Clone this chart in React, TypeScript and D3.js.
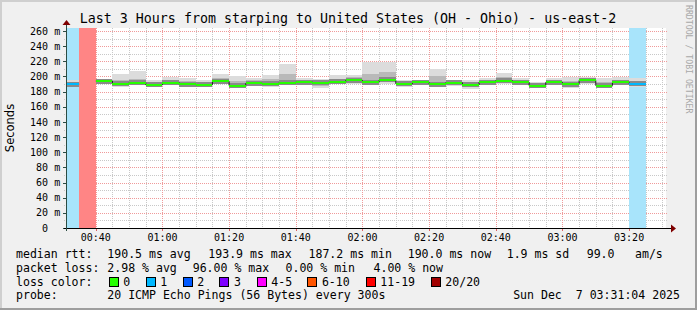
import React, { useEffect } from 'react';
import * as d3 from 'd3';

// ---------- data ----------
const binStart = Date.UTC(2025, 11, 7, 0, 30, 0); // first 5-minute bin
const binMinutes = 5;
const lossCount = [1, 19, 0, 0, 0, 0, 0, 0, 0, 0, 0, 0, 0, 0, 0, 0, 0, 0, 0, 0, 0, 0, 0, 0, 0, 0, 0, 0, 0, 0, 0, 0, 0, 0, 1];
const medianRtt = [189.7, null, 194, 190.5, 192, 189, 192, 189.7, 189, 193.6, 188, 191, 190.5, 192, 192.7, 191.8, 193, 195, 192.3, 195.4, 190.5, 192.3, 190, 191.8, 189, 192.7, 194.4, 192.7, 188, 192.3, 189.7, 195, 188, 192.3, 190.5];
const smokeMax = [196, null, 196.5, 203, 207.5, 195, 199, 198, 195, 203.5, 201, 197.5, 202, 216.5, 198, 197, 201.5, 201.5, 219, 219, 195.8, 195, 210, 196, 195, 198, 204.5, 198, 193, 198, 199.5, 199.5, 198, 199.5, 198];
const smokeHi = [192.5, null, 195.5, 196, 197, 192, 196, 194, 192, 198, 194, 195, 197, 203, 196, 194, 197, 199, 203, 205.5, 193, 194, 201, 194, 192, 196, 199, 196, 191, 196, 194, 197, 193, 196, 193];
const smokeLo = [188, null, 192, 188, 190.5, 187.5, 191, 188, 188.5, 191.5, 186.5, 189, 188, 190.5, 191, 187, 191.5, 192, 190, 192.5, 188, 190.5, 188, 189, 186, 191, 192, 191, 187, 191, 186, 192, 186.5, 190.5, 188];
const smokeMin = [186.5, null, 190.5, 186.5, 189.5, 186.5, 190, 187, 188.4, 189.5, 184.7, 187, 186.5, 188.8, 189.6, 184.7, 190, 190, 188.3, 190.5, 186.5, 189.6, 186, 187, 184, 190, 189.7, 190, 186, 190, 184.3, 189.8, 184.7, 189, 186.5];

const yMajorTicks = [0, 20, 40, 60, 80, 100, 120, 140, 160, 180, 200, 220, 240, 260];
const yMinorTicks = [10, 30, 50, 70, 90, 110, 130, 150, 170, 190, 210, 230, 250];

const lossLabels = ['0', '1', '2', '3', '4-5', '6-10', '11-19', '20/20'];
const lossColors = ['#26ff00', '#00b8ff', '#0059ff', '#7e00ff', '#ff00ff', '#ff5500', '#ff0000', '#a10000'];
const lossBandColors = ['none', '#a8e4fb', '#99bbff', '#cb99ff', '#ff99ff', '#ffbb99', '#ff8585', '#d99999'];
const lossLegendX = [108.7, 145.7, 182.7, 219.3, 256.7, 307.3, 365.7, 430.7];

const titleText = 'Last 3 Hours from starping to United States (OH - Ohio) - us-east-2';
const rttFields = ['190.5 ms avg', '193.9 ms max', '187.2 ms min', '190.0 ms now', '1.9 ms sd', '99.0', 'am/s'];
const rttFieldX = [107.3, 208.3, 308.5, 407.7, 506.7, 586.7, 635];
const lossFields = ['2.98 % avg', '96.00 % max', '0.00 % min', '4.00 % now'];
const lossFieldX = [107.3, 192.7, 285.5, 373.5];
const probeText = '20 ICMP Echo Pings (56 Bytes) every 300s';
const dateText = 'Sun Dec \u00a07 03:31:04 2025';

const T0 = Date.UTC(2025, 11, 7, 0, 31, 4);
const T1 = Date.UTC(2025, 11, 7, 3, 31, 4);

const W = 697, H = 310;
const PL = 66, PR = 666, PT = 28, PB = 228;
const MONO = '"DejaVu Sans Mono", monospace';

function lossClass(n: number) {
  if (n <= 0) return 0;
  if (n === 1) return 1;
  if (n === 2) return 2;
  if (n === 3) return 3;
  if (n <= 5) return 4;
  if (n <= 10) return 5;
  if (n <= 19) return 6;
  return 7;
}

export default function App() {
  useEffect(() => {
    document.body.style.margin = '0';
  }, []);

  const x = d3.scaleUtc().domain([T0, T1]).range([PL, PR]);
  const y = d3.scaleLinear().domain([0, 264]).range([PB, PT]);
  const cy = (v: number) => Math.round(y(v)) + 0.5;
  const cx = (t: Date) => Math.round(x(t)) + 0.5;

  const xMinor = d3.utcMinute.every(5)!.range(new Date(T0), new Date(T1));
  const xMajor = d3.utcMinute.every(20)!.range(new Date(T0), new Date(T1));
  const fmt = d3.utcFormat('%H:%M');

  const bins = lossCount.map((loss, i) => {
    const s = binStart + i * binMinutes * 60000;
    const e = s + binMinutes * 60000;
    const x0 = Math.max(PL, x(s));
    const x1 = Math.min(PR, x(e));
    return { i, loss, cls: lossClass(loss), x0, x1, s, e };
  });

  const medLine = d3
    .line<any>()
    .defined((d) => d.v != null)
    .x((d) => d.x)
    .y((d) => y(d.v));
  const medPts: any[] = [];
  bins.forEach((b) => {
    medPts.push({ x: b.x0, v: medianRtt[b.i] });
    medPts.push({ x: b.x1, v: medianRtt[b.i] });
  });

  return (
    <svg width={W} height={H} style={{ display: 'block' }} xmlns="http://www.w3.org/2000/svg">
      <rect x={0} y={0} width={W} height={H} fill="#f0f0f0" />
      {/* frame shading */}
      <path d={`M0,0 H${W} V2 H2 V${H} H0 Z`} fill="#cfcfcf" />
      <path d={`M${W},${H} H0 V${H - 2} H${W - 2} V0 H${W} Z`} fill="#9e9e9e" />

      {/* plot background */}
      <rect x={PL} y={PT} width={PR - PL} height={PB - PT} fill="#ffffff" />

      {/* minor grid */}
      <g stroke="#c8c8c8" strokeWidth={1} strokeDasharray="1,1" shapeRendering="crispEdges">
        {yMinorTicks.map((v) => (
          <line key={'ym' + v} x1={PL - 2} x2={PR + 2} y1={cy(v)} y2={cy(v)} />
        ))}
        {xMinor.map((t, i) => (
          <line key={'xm' + i} x1={cx(t)} x2={cx(t)} y1={PT} y2={PB + 2} />
        ))}
      </g>
      {/* major grid */}
      <g stroke="#f09a9a" strokeWidth={1} strokeDasharray="1,1" shapeRendering="crispEdges">
        {yMajorTicks.filter((v) => v > 0).map((v) => (
          <line key={'yM' + v} x1={PL - 2} x2={PR + 2} y1={cy(v)} y2={cy(v)} />
        ))}
        {xMajor.map((t, i) => (
          <line key={'xM' + i} x1={cx(t)} x2={cx(t)} y1={PT} y2={PB + 3} />
        ))}
      </g>

      {/* loss bands */}
      {bins.filter((b) => b.cls > 0).map((b) => (
        <rect key={'band' + b.i} x={b.x0} y={PT} width={b.x1 - b.x0} height={PB - PT} fill={lossBandColors[b.cls]} shapeRendering="crispEdges" />
      ))}

      {/* smoke */}
      <g shapeRendering="crispEdges">
        {bins.filter((b) => smokeMax[b.i] != null).map((b) => (
          <g key={'sm' + b.i}>
            <rect x={b.x0} width={b.x1 - b.x0} y={y(smokeMax[b.i] as number)} height={y(smokeMin[b.i] as number) - y(smokeMax[b.i] as number)} fill="#dcdcdc" />
            <rect x={b.x0} width={b.x1 - b.x0} y={y(smokeHi[b.i] as number)} height={y(smokeLo[b.i] as number) - y(smokeHi[b.i] as number)} fill="#b9b9b9" />
            <rect x={b.x0} width={b.x1 - b.x0} y={y(medianRtt[b.i] as number) - 2.5} height={5} fill="#8a8a8a" />
          </g>
        ))}
      </g>

      {/* median */}
      <path d={medLine(medPts) || ''} fill="none" stroke="#202020" strokeWidth={1} />
      {bins.filter((b) => medianRtt[b.i] != null && b.cls < 6).map((b) => (
        <rect key={'med' + b.i} x={b.x0} width={b.x1 - b.x0} y={y(medianRtt[b.i] as number) - 1} height={2} fill={lossColors[b.cls]} shapeRendering="crispEdges" />
      ))}

      {/* axis ticks */}
      <g stroke="#2c4d43" shapeRendering="crispEdges">
        {yMajorTicks.map((v) => (
          <line key={'yt' + v} x1={PL - 3} x2={PL} y1={cy(v)} y2={cy(v)} />
        ))}
        {xMajor.map((t, i) => (
          <line key={'xt' + i} x1={cx(t)} x2={cx(t)} y1={PB} y2={PB + 3} stroke="#e06060" />
        ))}
      </g>
      {/* axes */}
      <line x1={PL - 2} x2={PR + 5} y1={PB + 0.5} y2={PB + 0.5} stroke="#000" strokeWidth={1} shapeRendering="crispEdges" />
      <line x1={PL + 0.5} x2={PL + 0.5} y1={PB + 3} y2={PT - 4} stroke="#2c4d43" strokeWidth={1} shapeRendering="crispEdges" />
      <path d={`M${PR + 5},${PB - 3.5} L${PR + 10},${PB + 0.5} L${PR + 5},${PB + 4.5} Z`} fill="#7f0000" />
      <path d={`M${PL - 3.5},${PT - 3} L${PL + 0.5},${PT - 8} L${PL + 4.5},${PT - 3} Z`} fill="#7f0000" />

      {/* y labels */}
      <g fontFamily={MONO} fontSize={10} fill="#000">
        {yMajorTicks.map((v) => (
          <g key={'yl' + v}>
            <text x={48} y={y(v) + 3.6} textAnchor="end">{d3.format('d')(v)}</text>
            {v > 0 && <text x={54.2} y={y(v) + 3.6}>m</text>}
          </g>
        ))}
        {xMajor.map((t, i) => (
          <text key={'xl' + i} x={x(t)} y={241.3} textAnchor="middle">{fmt(t)}</text>
        ))}
      </g>

      {/* y title */}
      <text transform="translate(14,128) rotate(-90)" textAnchor="middle" fontFamily='"DejaVu Sans", sans-serif' fontSize={11.5} fill="#000">Seconds</text>

      {/* title */}
      <text x={348} y={23.3} textAnchor="middle" fontFamily={MONO} fontSize={13.3} fill="#000">{titleText}</text>

      {/* watermark */}
      <text transform="translate(686,5) rotate(90)" fontFamily={MONO} fontSize={8.2} fill="#a8a8a8">RRDTOOL / TOBI OETIKER</text>

      {/* legend */}
      <g fontFamily={MONO} fontSize={11.55} fill="#000">
        <text x={16} y={258}>median rtt:</text>
        {rttFields.map((s, i) => (
          <text key={'rf' + i} x={rttFieldX[i]} y={258}>{s}</text>
        ))}
        <text x={16} y={271.8}>packet loss:</text>
        {lossFields.map((s, i) => (
          <text key={'lf' + i} x={lossFieldX[i]} y={271.8}>{s}</text>
        ))}
        <text x={16} y={285.6}>loss color:</text>
        {lossLabels.map((s, i) => (
          <g key={'ll' + i}>
            <rect x={Math.round(lossLegendX[i]) + 0.5} y={277.5} width={9} height={9} fill={lossColors[i]} stroke="#000" strokeWidth={1} shapeRendering="crispEdges" />
            <text x={lossLegendX[i] + 14.6} y={285.6}>{s}</text>
          </g>
        ))}
        <text x={16} y={299.4}>probe:</text>
        <text x={107.3} y={299.4}>{probeText}</text>
        <text x={680} y={299.4} textAnchor="end">{dateText}</text>
      </g>
    </svg>
  );
}
